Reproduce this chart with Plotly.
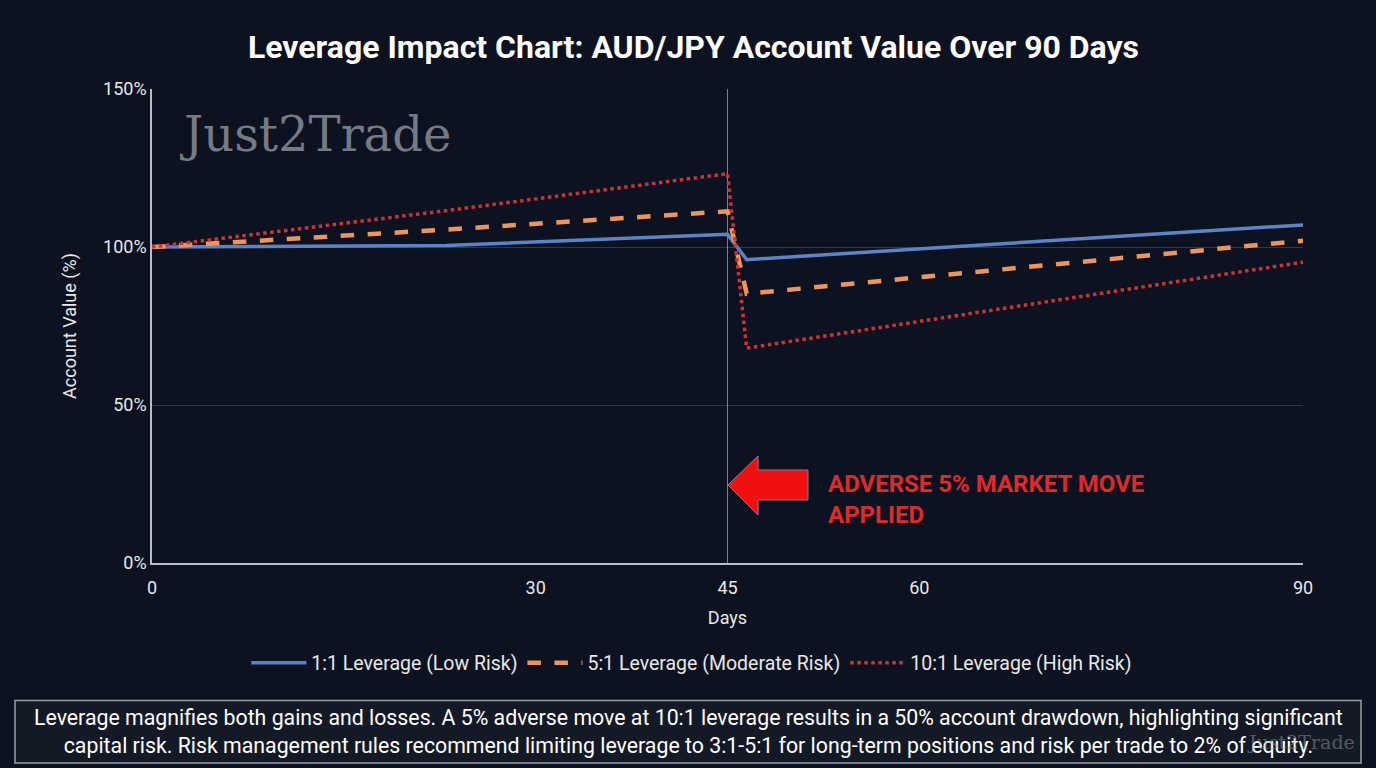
import plotly.graph_objects as go

# ---- data ----
days = [0, 23, 45, 46.5, 90]
lev_1 = [100, 100.5, 104, 96, 107]
lev_5 = [100, 105.5, 111.3, 85.2, 102]
lev_10 = [100, 111.5, 123.2, 68, 95.2]
series_names = ["1:1 Leverage (Low Risk)", "5:1 Leverage (Moderate Risk)", "10:1 Leverage (High Risk)"]
event_day = 45
x_ticks = [0, 30, 45, 60, 90]
y_ticks = [0, 50, 100, 150]
y_tick_labels = ["0%", "50%", "100%", "150%"]

BG = "#0c1220"
fig = go.Figure()
fig.add_trace(go.Scatter(x=days, y=lev_1, mode="lines", name=series_names[0],
                         line=dict(color="#5b84c8", width=3.5)))
fig.add_trace(go.Scatter(x=days, y=lev_5, mode="lines", name=series_names[1],
                         line=dict(color="#f0955a", width=4.5, dash="dash")))
fig.add_trace(go.Scatter(x=days, y=lev_10, mode="lines", name=series_names[2],
                         line=dict(color="#cc3333", width=3.5, dash="dot")))

fig.add_shape(type="line", xref="x", yref="paper", x0=event_day, x1=event_day, y0=0, y1=1,
              line=dict(color="rgba(200,200,200,0.6)", width=1), layer="below")

# arrow (decoration, paper coords)
fig.add_shape(type="path", xref="paper", yref="paper",
              path="M 0.5004 0.1646 L 0.5265 0.2257 L 0.5265 0.1962 L 0.5699 0.1962 "
                   "L 0.5699 0.1329 L 0.5265 0.1329 L 0.5265 0.1013 Z",
              fillcolor="#f01010", line=dict(color="#8a7a9a", width=1))
fig.add_annotation(xref="paper", yref="paper", x=0.5856, y=0.135, xanchor="left", yanchor="middle",
                   text="<b>ADVERSE 5% MARKET MOVE<br>APPLIED</b>", showarrow=False, align="left",
                   font=dict(family="Roboto", size=24, color="#e02a2a"))

# watermark
fig.add_annotation(xref="paper", yref="paper", x=0.022, y=0.905, xanchor="left", yanchor="middle",
                   text="Just2Trade", showarrow=False,
                   font=dict(family="DejaVu Serif", size=48, color="rgba(165,170,180,0.7)"))

# footer box
fig.add_shape(type="rect", xref="paper", yref="paper", x0=-0.119, x1=1.0504, y0=-0.422, y1=-0.2899,
              fillcolor="#131a26", line=dict(color="#9a9ea6", width=1.5))
fig.add_annotation(xref="paper", yref="paper", x=0.4665, y=-0.356, xanchor="center", yanchor="middle",
                   text="Leverage magnifies both gains and losses. A 5% adverse move at 10:1 leverage results in a 50% account drawdown, highlighting significant<br>capital risk. Risk management rules recommend limiting leverage to 3:1-5:1 for long-term positions and risk per trade to 2% of equity.",
                   showarrow=False, align="center",
                   font=dict(family="Roboto", size=21.3, color="#ffffff"))
fig.add_annotation(xref="paper", yref="paper", x=1.047, y=-0.378, xanchor="right", yanchor="middle",
                   text="Just2Trade", showarrow=False,
                   font=dict(family="DejaVu Serif", size=19, color="rgba(150,155,165,0.5)"))

fig.update_layout(
    width=1376, height=768,
    paper_bgcolor=BG, plot_bgcolor=BG,
    margin=dict(l=152, r=73, t=89, b=205),
    title=dict(text="<b>Leverage Impact Chart: AUD/JPY Account Value Over 90 Days</b>",
               x=0.504, xanchor="center", y=0.939, yanchor="middle",
               font=dict(family="Roboto", size=32, color="#ffffff")),
    font=dict(family="Roboto", color="#e8e8e8", size=18),
    showlegend=True,
    legend=dict(orientation="h", x=0.469, xanchor="center", y=-0.211, yanchor="middle",
                font=dict(size=19.5, color="#e8e8e8"), bgcolor="rgba(0,0,0,0)",
                itemwidth=55),
    xaxis=dict(range=[0, 90], tickvals=x_ticks, showgrid=False, zeroline=False,
               showline=True, linecolor="#b8bcc4", linewidth=1.5, ticks="",
               ticklabelstandoff=8,
               title=dict(text="Days", font=dict(size=18, color="#e8e8e8"), standoff=14),
               tickfont=dict(size=18, color="#e8e8e8")),
    yaxis=dict(range=[0, 150], tickmode="array", tickvals=y_ticks, ticktext=y_tick_labels,
               showgrid=True, gridcolor="rgba(255,255,255,0.16)", gridwidth=1, zeroline=False,
               showline=True, linecolor="#b8bcc4", linewidth=1.5, ticks="",
               title=dict(text="Account Value (%)", font=dict(size=18, color="#e8e8e8"), standoff=22),
               tickfont=dict(size=18, color="#e8e8e8")),
)

fig.write_html("out.html", config={"displayModeBar": False},
               post_script="document.body.style.margin='0';document.body.style.background='#0c1220';")
